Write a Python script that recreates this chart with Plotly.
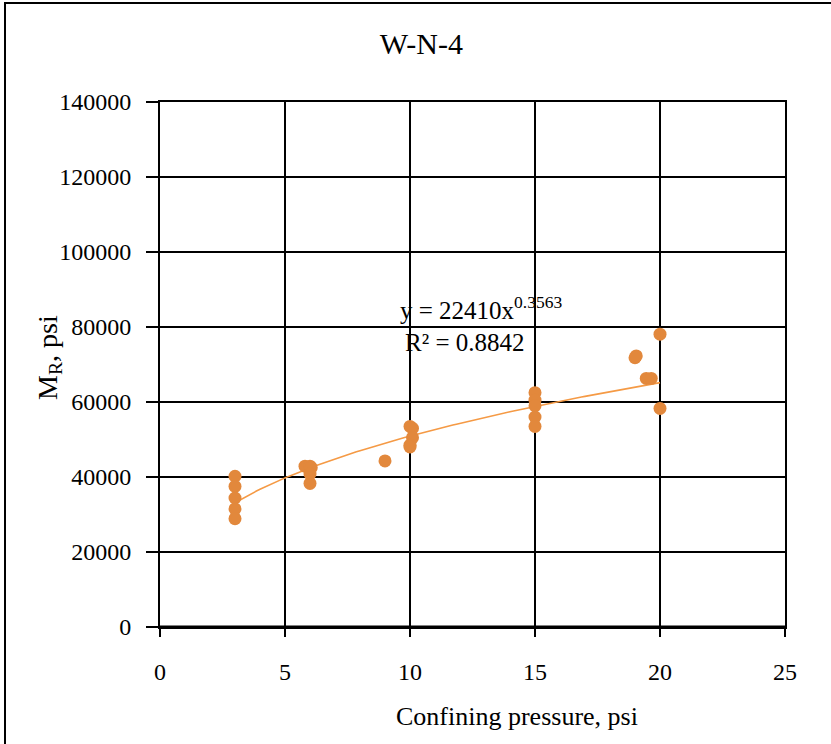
import numpy as np
import plotly.graph_objects as go

# Measured resilient modulus vs confining pressure, sample W-N-4
confining_psi = [3, 3, 3, 3, 3,
                 5.8, 6.0, 6.05, 6.0, 6.0,
                 9.0,
                 10.0, 10.1, 10.1, 10.0, 10.0,
                 15, 15, 15, 15, 15,
                 19.0, 19.05, 19.45, 19.65, 20.0, 20.0]
mr_psi = [40200, 37500, 34400, 31500, 28900,
          42900, 42900, 42500, 40800, 38300,
          44300,
          53500, 53000, 50500, 48500, 48000,
          62500, 60500, 59000, 56000, 53500,
          71800, 72300, 66300, 66300, 78100, 58300]

# Power-law trend y = a * x^b
fit_a = 22410
fit_b = 0.3563
fit_r2 = 0.8842
fit_x = np.linspace(3, 20, 120)
fit_y = fit_a * fit_x ** fit_b

x_ticks = [0, 5, 10, 15, 20, 25]
y_ticks = [0, 20000, 40000, 60000, 80000, 100000, 120000, 140000]

font_family = "Liberation Serif, Times New Roman, serif"
orange = "#E2883C"

fig = go.Figure()
fig.add_trace(go.Scatter(
    x=fit_x, y=fit_y, mode="lines",
    line=dict(color="#F59A45", width=1.6),
    hoverinfo="skip", showlegend=False,
))
fig.add_trace(go.Scatter(
    x=confining_psi, y=mr_psi, mode="markers",
    marker=dict(color=orange, size=13, line=dict(width=0)),
    showlegend=False,
))

axis_common = dict(
    showgrid=True, gridcolor="black", gridwidth=2,
    showline=True, linecolor="black", linewidth=2,
    zeroline=False, ticks="outside", tickwidth=1.5,
    tickcolor="black", mirror=True,
    tickfont=dict(family=font_family, size=24, color="black"),
)

fig.update_xaxes(
    range=[0, 25], tickvals=x_ticks, ticktext=[str(v) for v in x_ticks],
    ticklen=8, ticklabelstandoff=14,
    **axis_common,
)
fig.update_yaxes(
    range=[0, 140000], tickvals=y_ticks, ticktext=[str(v) for v in y_ticks],
    ticklen=12, ticklabelstandoff=10,
    **axis_common,
)

# Thicker baseline along y = 0
fig.add_shape(type="line", xref="x", yref="y", x0=0, x1=25, y0=0, y1=0,
              line=dict(color="black", width=3))

# Axis titles
fig.add_annotation(
    xref="paper", yref="paper", x=0.571, y=-0.171,
    text="Confining pressure, psi", showarrow=False,
    xanchor="center", yanchor="middle",
    font=dict(family=font_family, size=26, color="black"),
)
fig.add_annotation(
    xref="paper", yref="paper", x=-0.178, y=0.514,
    text="M<sub>R</sub>, psi", showarrow=False, textangle=-90,
    xanchor="center", yanchor="middle",
    font=dict(family=font_family, size=28, color="black"),
)

# Trendline equation and fit quality
fig.add_annotation(
    xref="x", yref="y", x=12.84, y=85200,
    text=f"y = {fit_a}x<sup>{fit_b}</sup>", showarrow=False,
    font=dict(family=font_family, size=25, color="black"),
)
fig.add_annotation(
    xref="x", yref="y", x=12.2, y=75800,
    text=f"R² = {fit_r2}", showarrow=False,
    font=dict(family=font_family, size=25, color="black"),
)

# Outer frame around the whole chart
fig.add_shape(
    type="rect", xref="paper", yref="paper",
    x0=-0.248, x1=1.12, y0=-0.23, y1=1.1886,
    line=dict(color="black", width=2), fillcolor="rgba(0,0,0,0)",
    layer="below",
)

fig.update_layout(
    width=831, height=744,
    margin=dict(l=160, r=46, t=102, b=117),
    paper_bgcolor="white", plot_bgcolor="white",
    title=dict(text="W-N-4", x=0.507, xanchor="center", y=0.942, yanchor="middle",
               font=dict(family=font_family, size=30, color="black")),
    font=dict(family=font_family, color="black"),
)

fig.write_html("out.html")
